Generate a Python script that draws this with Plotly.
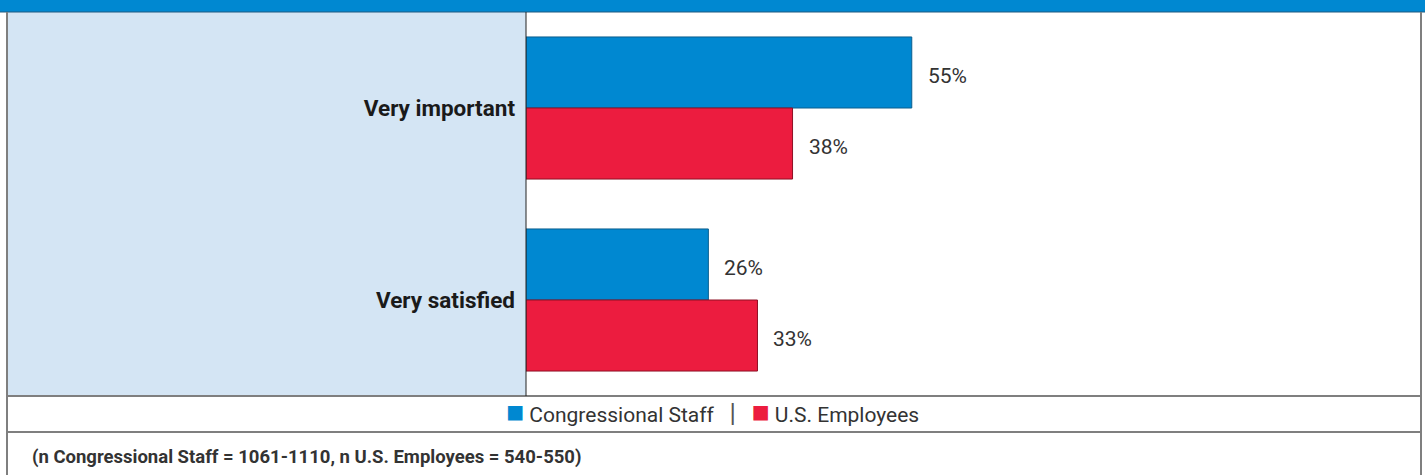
import plotly.graph_objects as go

# Survey results: share of respondents
categories = ["Very important", "Very satisfied"]
congressional_staff = [55, 26]
us_employees = [38, 33]
series_names = ["Congressional Staff", "U.S. Employees"]
footnote = "(n Congressional Staff = 1061-1110, n U.S. Employees = 540-550)"

BLUE = "#0088D1"
RED = "#EC1C3F"
PANEL = "#D4E5F4"
BORDER = "#7F7F7F"
TEXT = "#333333"
FONT = "Roboto, Arial, sans-serif"

W, H = 1425, 475
PLOT_L, PLOT_R = 526, 1421
PLOT_T, PLOT_B = 12, 396

fig = go.Figure()
fig.add_trace(go.Bar(
    y=categories, x=congressional_staff, orientation="h", name=series_names[0],
    marker=dict(color=BLUE, line=dict(color="#0A5E8E", width=1)),
))
fig.add_trace(go.Bar(
    y=categories, x=us_employees, orientation="h", name=series_names[1],
    marker=dict(color=RED, line=dict(color="#8E1024", width=1)),
))

# value labels beside each bar
annotations = []
for vals, yshift in ((congressional_staff, 32), (us_employees, -39)):
    for cat, v in zip(categories, vals):
        annotations.append(dict(
            x=v, y=cat, xref="x", yref="y", text=f"{v}%", showarrow=False,
            xanchor="left", yanchor="middle", xshift=14, yshift=yshift,
            font=dict(family=FONT, size=21, color=TEXT),
        ))

# legend row
legend_text = (
    f"<span style='color:{BLUE};font-size:30px'>■</span> {series_names[0]}"
    f"   <span style='color:#555555;font-size:26px'>|</span>   "
    f"<span style='color:{RED};font-size:30px'>■</span> {series_names[1]}"
)
annotations.append(dict(
    x=0.5, y=1 - 411 / H, xref="paper", yref="paper", text=legend_text,
    showarrow=False, xanchor="center", yanchor="middle",
    font=dict(family=FONT, size=21, color=TEXT),
))
# footnote
annotations.append(dict(
    x=30 / W, y=1 - 457 / H, xref="paper", yref="paper", text=f"<b>{footnote}</b>",
    showarrow=False, xanchor="left", yanchor="middle",
    font=dict(family=FONT, size=18.5, color=TEXT),
))

def px(x):
    return x / W

def py(y):
    return 1 - y / H

shapes = [
    # header band
    dict(type="rect", xref="paper", yref="paper", x0=0, x1=1, y0=py(12), y1=1,
         fillcolor=BLUE, line=dict(width=0), layer="below"),
    dict(type="line", xref="paper", yref="paper", x0=0, x1=1, y0=py(12), y1=py(12),
         line=dict(color="#1F5A80", width=1)),
    # category label panel
    dict(type="rect", xref="paper", yref="paper", x0=px(7), x1=px(PLOT_L), y0=py(PLOT_B), y1=py(PLOT_T),
         fillcolor=PANEL, line=dict(width=0), layer="below"),
    # outer frame
    dict(type="line", xref="paper", yref="paper", x0=px(7), x1=px(7), y0=0, y1=py(12),
         line=dict(color=BORDER, width=2)),
    dict(type="line", xref="paper", yref="paper", x0=px(1421), x1=px(1421), y0=0, y1=py(12),
         line=dict(color=BORDER, width=2)),
    dict(type="line", xref="paper", yref="paper", x0=px(7), x1=px(1421), y0=py(396), y1=py(396),
         line=dict(color=BORDER, width=2)),
    dict(type="line", xref="paper", yref="paper", x0=px(7), x1=px(1421), y0=py(432), y1=py(432),
         line=dict(color=BORDER, width=2)),
    # plot area left edge
    dict(type="line", xref="paper", yref="paper", x0=px(PLOT_L), x1=px(PLOT_L), y0=py(PLOT_B), y1=py(PLOT_T),
         line=dict(color="#222222", width=1)),
]

fig.update_layout(
    width=W, height=H,
    margin=dict(l=0, r=0, t=0, b=0),
    paper_bgcolor="white", plot_bgcolor="white",
    barmode="group", bargap=0.26, bargroupgap=0,
    showlegend=False,
    xaxis=dict(domain=[px(PLOT_L), px(PLOT_R)], range=[0, 127.6], visible=False, fixedrange=True),
    yaxis=dict(domain=[py(PLOT_B), py(PLOT_T)], autorange="reversed", showgrid=False,
               zeroline=False, showline=False, ticks="", ticklabelstandoff=10,
               tickfont=dict(family=FONT, size=22.5, color="#1A1A1A", weight="bold")),
    annotations=annotations,
    shapes=shapes,
)

fig.write_html("out.html")
